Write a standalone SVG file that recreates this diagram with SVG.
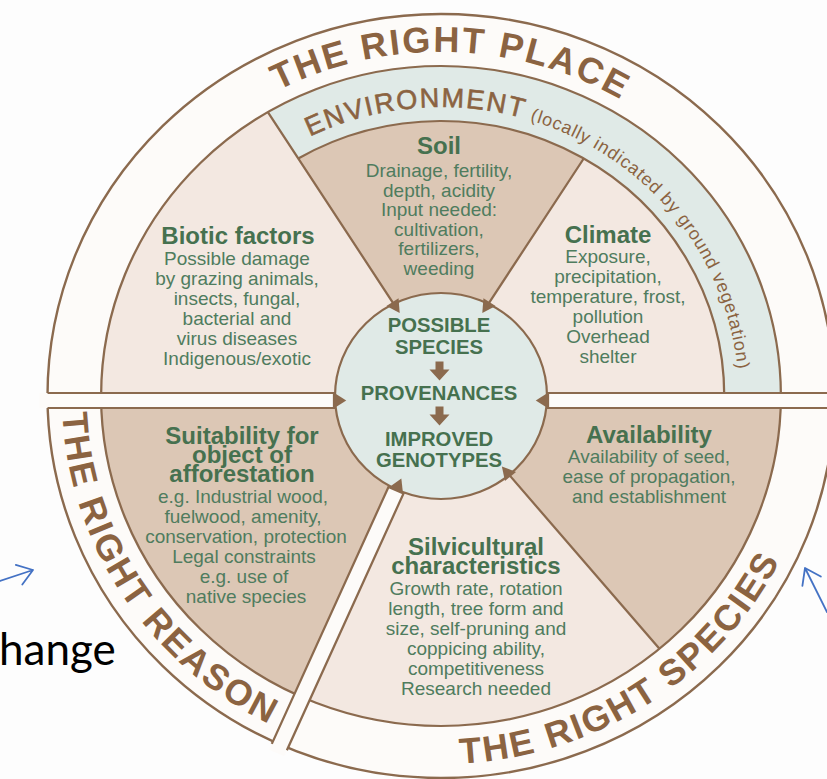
<svg xmlns="http://www.w3.org/2000/svg" width="827" height="779" viewBox="0 0 827 779">
<style>
  .ln { fill: none; stroke: #8b6a4e; stroke-width: 2.2; }
  .light { fill: #f3e8e1; }
  .tan { fill: #dcc7b5; }
  .mist { fill: #e0eae7; }
  .paper { fill: #fdfbf9; }
  .head { fill: #8b6a4e; }
  .t { font-family: "Liberation Sans", Arial, Helvetica, sans-serif; font-size: 19px; fill: #4f7c5e; text-anchor: middle; }
  .h { font-weight: bold; font-size: 24px; fill: #46714f; }
  .c { font-weight: bold; font-size: 20.3px; fill: #46714f; }
  .ring { font-family: "Liberation Sans", Arial, Helvetica, sans-serif; font-weight: bold; font-size: 36px; fill: #8b6341; letter-spacing: 2.2px; text-anchor: middle; }
  .env { font-family: "Liberation Sans", Arial, Helvetica, sans-serif; fill: #8b6341; }
  .blue { fill: none; stroke: #4472c4; stroke-width: 1.8; stroke-linecap: round; stroke-linejoin: round; }
</style>
<defs>
  <path id="pPlace" d="M 111.8 268.8 A 354.3 344 0 0 1 777.4 288"/>
  <path id="pReason" d="M 76.7 294.6 A 379 368 0 0 0 401.4 762"/>
  <path id="pSpecies" d="M 394.8 761.3 A 379 368 0 0 0 803.4 503.6"/>
  <path id="pEnv" d="M 292.2 145.7 A 297.7 289 0 0 1 738.7 391.1"/>
</defs>

<rect width="827" height="779" fill="#fdfdfd"/>

<!-- outer ring -->
<g id="outer-ring">
  <ellipse cx="441" cy="396" rx="393.5" ry="382" class="paper" stroke="#8b6a4e" stroke-width="2.4"/>
</g>

<!-- top half: the right place -->
<g id="biotic">
  <path transform="translate(441 396) scale(1.03 1)" class="light" d="M0,0 L-330,0 A330,330 0 0 1 -168.1,-283.9 L0,-20 Z"/>
  <text class="t h" x="238" y="244">Biotic factors</text>
  <text class="t" x="237" y="265">Possible damage</text>
  <text class="t" x="237" y="285">by grazing animals,</text>
  <text class="t" x="237" y="305">insects, fungal,</text>
  <text class="t" x="237" y="325">bacterial and</text>
  <text class="t" x="237" y="345">virus diseases</text>
  <text class="t" x="237" y="365">Indigenous/exotic</text>
</g>

<g id="environment">
  <path transform="translate(441 396) scale(1.03 1)" class="mist" d="M-168.1,-283.9 A330,330 0 0 1 330,0 L275,0 A275,275 0 0 0 -138.6,-237.5 Z"/>
  <text class="env"><textPath href="#pEnv" startOffset="20"><tspan font-size="27" letter-spacing="1.8" stroke="#8b6341" stroke-width="0.6">ENVIRONMENT</tspan><tspan font-size="18" letter-spacing="0.8" dx="6">(locally indicated by ground vegetation)</tspan></textPath></text>
</g>

<g id="soil">
  <path transform="translate(441 396) scale(1.03 1)" class="tan" d="M0,-20 L-138.6,-237.5 A275,275 0 0 1 138.6,-237.5 Z"/>
  <text class="t h" x="439" y="154">Soil</text>
  <text class="t" x="439" y="177">Drainage, fertility,</text>
  <text class="t" x="439" y="196.6">depth, acidity</text>
  <text class="t" x="439" y="216.2">Input needed:</text>
  <text class="t" x="439" y="235.8">cultivation,</text>
  <text class="t" x="439" y="255.4">fertilizers,</text>
  <text class="t" x="439" y="275">weeding</text>
</g>

<g id="climate">
  <path transform="translate(441 396) scale(1.03 1)" class="light" d="M0,-20 L138.6,-237.5 A275,275 0 0 1 275,0 L0,0 Z"/>
  <text class="t h" x="608" y="243">Climate</text>
  <text class="t" x="608" y="263">Exposure,</text>
  <text class="t" x="608" y="283">precipitation,</text>
  <text class="t" x="608" y="303">temperature, frost,</text>
  <text class="t" x="608" y="323">pollution</text>
  <text class="t" x="608" y="343">Overhead</text>
  <text class="t" x="608" y="363">shelter</text>
</g>

<!-- lower left: the right reason -->
<g id="suitability">
  <path transform="translate(441 396) scale(1.03 1)" class="tan" d="M0,0 L-133.2,301.9 A330,330 0 0 1 -330,0 Z"/>
  <text class="t h" x="242" y="444">Suitability for</text>
  <text class="t h" x="242" y="463">object of</text>
  <text class="t h" x="242" y="482">afforestation</text>
  <text class="t" x="243" y="503">e.g. Industrial wood,</text>
  <text class="t" x="243" y="523">fuelwood, amenity,</text>
  <text class="t" x="246" y="543">conservation, protection</text>
  <text class="t" x="244" y="563">Legal constraints</text>
  <text class="t" x="244" y="583">e.g. use of</text>
  <text class="t" x="246" y="603">native species</text>
</g>

<!-- lower right: the right species -->
<g id="silvicultural">
  <path transform="translate(441 396) scale(1.03 1)" class="light" d="M0,0 L212.1,252.8 A330,330 0 0 1 -133.2,301.9 Z"/>
  <text class="t h" x="476" y="555">Silvicultural</text>
  <text class="t h" x="476" y="574">characteristics</text>
  <text class="t" x="476" y="595">Growth rate, rotation</text>
  <text class="t" x="476" y="615">length, tree form and</text>
  <text class="t" x="476" y="635">size, self-pruning and</text>
  <text class="t" x="476" y="655">coppicing ability,</text>
  <text class="t" x="476" y="675">competitiveness</text>
  <text class="t" x="476" y="695">Research needed</text>
</g>

<g id="availability">
  <path transform="translate(441 396) scale(1.03 1)" class="tan" d="M0,0 L330,0 A330,330 0 0 1 212.1,252.8 Z"/>
  <text class="t h" x="649" y="443">Availability</text>
  <text class="t" x="649" y="463">Availability of seed,</text>
  <text class="t" x="649" y="483">ease of propagation,</text>
  <text class="t" x="649" y="503">and establishment</text>
</g>

<!-- dividing lines, white bands and the arrowheads into the core -->
<g id="connectors" transform="translate(441 396) scale(1.03 1)">
  <circle r="330" class="ln"/>
  <path class="ln" d="M-138.6,-237.5 A275,275 0 0 1 275,0"/>
  <path class="ln" d="M-46,-92.2 L-168.1,-283.9 M46,-92.2 L138.6,-237.5 M66.2,78.9 L212.1,252.8"/>
  <rect class="paper" x="-390" y="-3" width="780" height="15"/>
  <path class="ln" d="M-382,-3 H-100 M-382,12 H-100 M100,-3 H382 M100,12 H382"/>
  <g transform="translate(-3 2) rotate(113.8)">
    <rect class="paper" x="0" y="-8" width="388" height="16"/>
    <path class="ln" d="M98,-8 H381.5 M98,8 H381.5"/>
  </g>
</g>

<!-- core: species selection sequence -->
<g id="core">
  <ellipse cx="441" cy="396" rx="106" ry="103" class="mist" stroke="#8b6a4e" stroke-width="2.2"/>
  <g transform="translate(441 396) scale(1.03 1)" class="head">
    <path d="M-105,-4 L-92,4.5 L-105,13 Z"/>
    <path d="M105,-4 L92,4.5 L105,13 Z"/>
    <path d="M-36.8,98.4 L-38.5,82.4 L-51.4,92 Z"/>
    <path d="M62.1,84.9 L59.1,70.5 L72.9,75.9 Z"/>
    <path d="M-41.2,-97.7 L-40.1,-82.9 L-53,-90.1 Z"/>
    <path d="M53,-90.1 L40.1,-82.9 L41.2,-97.7 Z"/>
  </g>
  <text class="t c" x="439" y="332">POSSIBLE</text>
  <text class="t c" x="439" y="354">SPECIES</text>
  <path class="head" d="M435.5,361.5 H443.5 V369.5 H449.5 L439.5,380.5 L429.5,369.5 H435.5 Z"/>
  <text class="t c" x="439" y="400">PROVENANCES</text>
  <path class="head" d="M435.5,406.5 H443.5 V414.5 H449.5 L439.5,425.5 L429.5,414.5 H435.5 Z"/>
  <text class="t c" x="439" y="446">IMPROVED</text>
  <text class="t c" x="439" y="467">GENOTYPES</text>
</g>

<!-- ring captions -->
<g id="right-place">
  <text class="ring"><textPath href="#pPlace" startOffset="50%">THE RIGHT PLACE</textPath></text>
</g>
<g id="right-reason">
  <text class="ring" letter-spacing="4.4"><textPath href="#pReason" startOffset="48.7%">THE RIGHT REASON</textPath></text>
</g>
<g id="right-species">
  <text class="ring" font-size="35" letter-spacing="0.5"><textPath href="#pSpecies" startOffset="50.5%">THE RIGHT SPECIES</textPath></text>
</g>

<!-- slide overlay -->
<g id="overlay">
  <text x="-1" y="665" font-family="Lato, 'Open Sans', sans-serif" font-size="44" fill="#000">hange</text>
  <path class="blue" d="M0,581 L33,570 M15.8,564.9 L33,570 L22.3,584.5"/>
  <path class="blue" d="M827,612 L805,568 M802.4,585.8 L805,568 L820.8,576.5"/>
</g>
</svg>
